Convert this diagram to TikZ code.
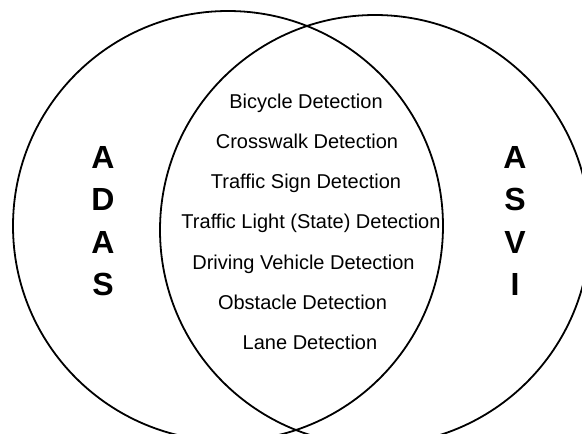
\documentclass[tikz,border=0pt]{standalone}
\usepackage{fontspec}
\setmainfont{Liberation Sans}
\begin{document}
\begin{tikzpicture}[x=1pt,y=-1pt,
  ring/.style={draw=black,line width=1.8pt},
  item/.style={inner sep=0pt,anchor=base,font=\fontsize{20}{24}\selectfont},
  letter/.style={inner sep=0pt,anchor=base,font=\fontsize{32}{36}\selectfont\bfseries}]
\useasboundingbox (0,0) rectangle (582,434);
\draw[ring] (228,226) circle[radius=215pt];
\draw[ring] (375,230) circle[radius=215pt];
\node[item] (i1) at (306,108) {Bicycle Detection};
\node[item] (i2) at (307,148.3) {Crosswalk Detection};
\node[item] (i3) at (306,188.6) {Traffic Sign Detection};
\node[item] (i4) at (311,228.9) {Traffic Light (State) Detection};
\node[item] (i5) at (303.5,269.2) {Driving Vehicle Detection};
\node[item] (i6) at (302.5,309.5) {Obstacle Detection};
\node[item] (i7) at (310,349.8) {Lane Detection};
\node[letter] (l1) at (103,168) {A};
\node[letter] (l2) at (103,210.5) {D};
\node[letter] (l3) at (103,253) {A};
\node[letter] (l4) at (103,295.5) {S};
\node[letter] (r1) at (515,168) {A};
\node[letter] (r2) at (515,210.5) {S};
\node[letter] (r3) at (515,253) {V};
\node[letter] (r4) at (515,295.5) {I};
\end{tikzpicture}
\end{document}
